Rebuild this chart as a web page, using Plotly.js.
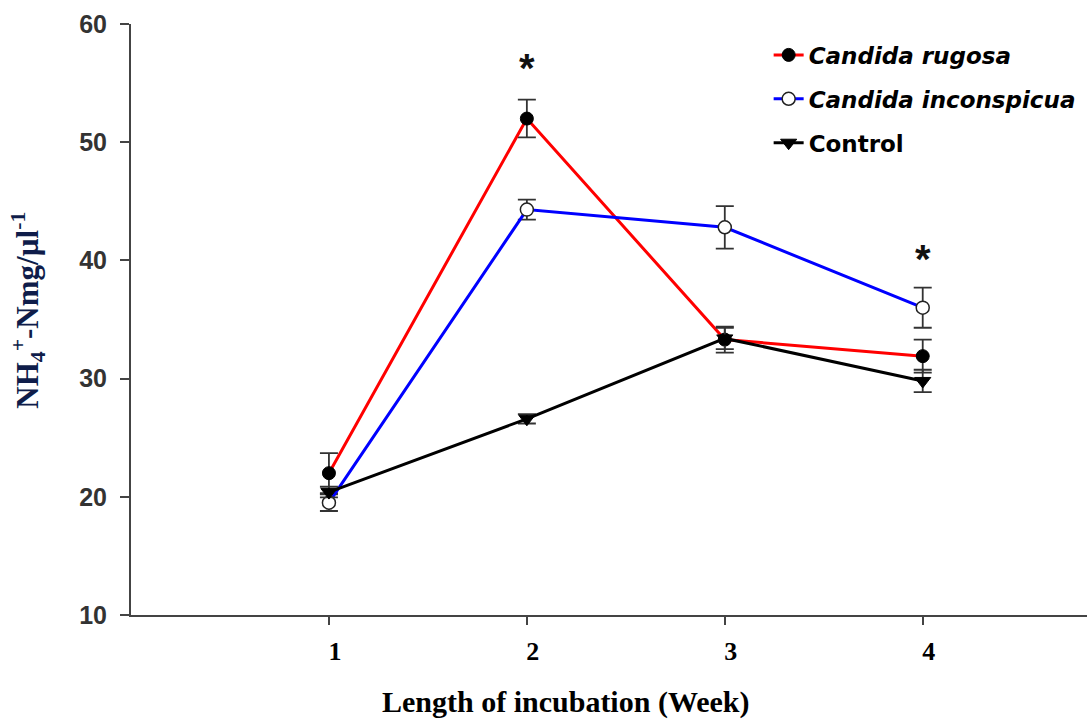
<!DOCTYPE html>
<html>
<head>
<meta charset="utf-8">
<script src="https://cdn.plot.ly/plotly-3.0.1.min.js"></script>
<style>html,body{margin:0;padding:0;background:#fff;}#chart{width:1087px;height:722px;}</style>
</head>
<body>
<div id="chart"></div>
<script>
var weeks = [1, 2, 3, 4];
var tickLabels = ['1', '2', '3', '4'];
var seriesNames = ['<i>Candida rugosa</i>', '<i>Candida inconspicua</i>', 'Control'];
var rugosa = [22.0, 52.0, 33.3, 31.9];
var rugosaErr = [1.7, 1.6, 1.1, 1.4];
var inconspicua = [19.5, 44.3, 42.8, 36.0];
var inconspicuaErr = [0.7, 0.85, 1.8, 1.7];
var control = [20.4, 26.6, 33.4, 29.8];
var controlErr = [0.45, 0.4, 0.9, 0.95];
var starX = [2, 4];
var starY = [56.3, 40.1];

var errStyle = function (arr) {
  return {type: 'data', array: arr, visible: true, color: '#333', thickness: 1.8, width: 9};
};

var traces = [
  {x: weeks, y: rugosa, name: seriesNames[0], type: 'scatter', mode: 'lines+markers',
   legendgroup: 'a',
   line: {color: '#ff0000', width: 3},
   marker: {symbol: 'circle', size: 13, color: '#000', line: {color: '#000', width: 1}},
   error_y: errStyle(rugosaErr)},
  {x: weeks, y: inconspicua, name: seriesNames[1], type: 'scatter', mode: 'lines+markers',
   legendgroup: 'b',
   line: {color: '#0000ff', width: 3},
   marker: {symbol: 'circle', size: 13, color: '#fff', line: {color: '#222', width: 1.5}},
   error_y: errStyle(inconspicuaErr)},
  {x: weeks, y: control, name: seriesNames[2], type: 'scatter', mode: 'lines+markers',
   legendgroup: 'c',
   line: {color: '#000', width: 3},
   marker: {symbol: 'triangle-down', size: 14, color: '#000', line: {color: '#000', width: 1}},
   error_y: errStyle(controlErr)}
];

var annotations = starX.map(function (x, i) {
  return {x: x, y: starY[i], xref: 'x', yref: 'y', text: '*', showarrow: false,
          font: {family: 'Liberation Sans, Arial', size: 40, color: '#111', weight: 'bold'},
          xanchor: 'center', yanchor: 'middle'};
});
annotations.push({
  x: 0.455, y: -0.147, xref: 'paper', yref: 'paper', text: 'Length of incubation (Week)',
  showarrow: false, xanchor: 'center', yanchor: 'middle',
  font: {family: 'Liberation Serif, Times New Roman', size: 30, color: '#000', weight: 'bold'}
});
annotations.push({
  x: -0.1077, y: 0.515, xref: 'paper', yref: 'paper',
  text: 'NH<sub>4</sub><sup>+</sup>-Nmg/µl<sup>-1</sup>', textangle: -90,
  showarrow: false, xanchor: 'center', yanchor: 'middle',
  font: {family: 'Liberation Serif, Times New Roman', size: 31, color: '#0f1d4a', weight: 'bold'}
});

var layout = {
  width: 1087, height: 722,
  margin: {l: 131, r: 0, t: 24, b: 107, pad: 0},
  paper_bgcolor: '#fff', plot_bgcolor: '#fff',
  showlegend: true,
  legend: {x: 0.667, y: 0.984, xanchor: 'left', yanchor: 'top',
           traceorder: 'grouped', tracegroupgap: 11,
           bgcolor: 'rgba(0,0,0,0)',
           font: {family: 'DejaVu Sans, Verdana', size: 23, color: '#000', weight: 'bold'}},
  xaxis: {range: [0, 4.83], tickvals: weeks, ticktext: tickLabels,
          showline: true, linecolor: '#444', linewidth: 2, mirror: false,
          ticks: 'outside', ticklen: 8, tickwidth: 2, tickcolor: '#444',
          showgrid: false, zeroline: false, ticklabelshift: 6, ticklabelstandoff: 4,
          tickfont: {family: 'Liberation Serif, Times New Roman', size: 26, color: '#000', weight: 'bold'}},
  yaxis: {range: [10, 60], dtick: 10, tick0: 10,
          showline: true, linecolor: '#444', linewidth: 2, mirror: false,
          ticks: 'outside', ticklen: 9, tickwidth: 2, tickcolor: '#444',
          showgrid: false, zeroline: false, ticklabelstandoff: 8,
          tickfont: {family: 'Liberation Sans, Arial', size: 25, color: '#333', weight: 'bold'}},
  annotations: annotations
};

Plotly.newPlot('chart', traces, layout, {displayModeBar: false, staticPlot: true});
</script>
</body>
</html>
